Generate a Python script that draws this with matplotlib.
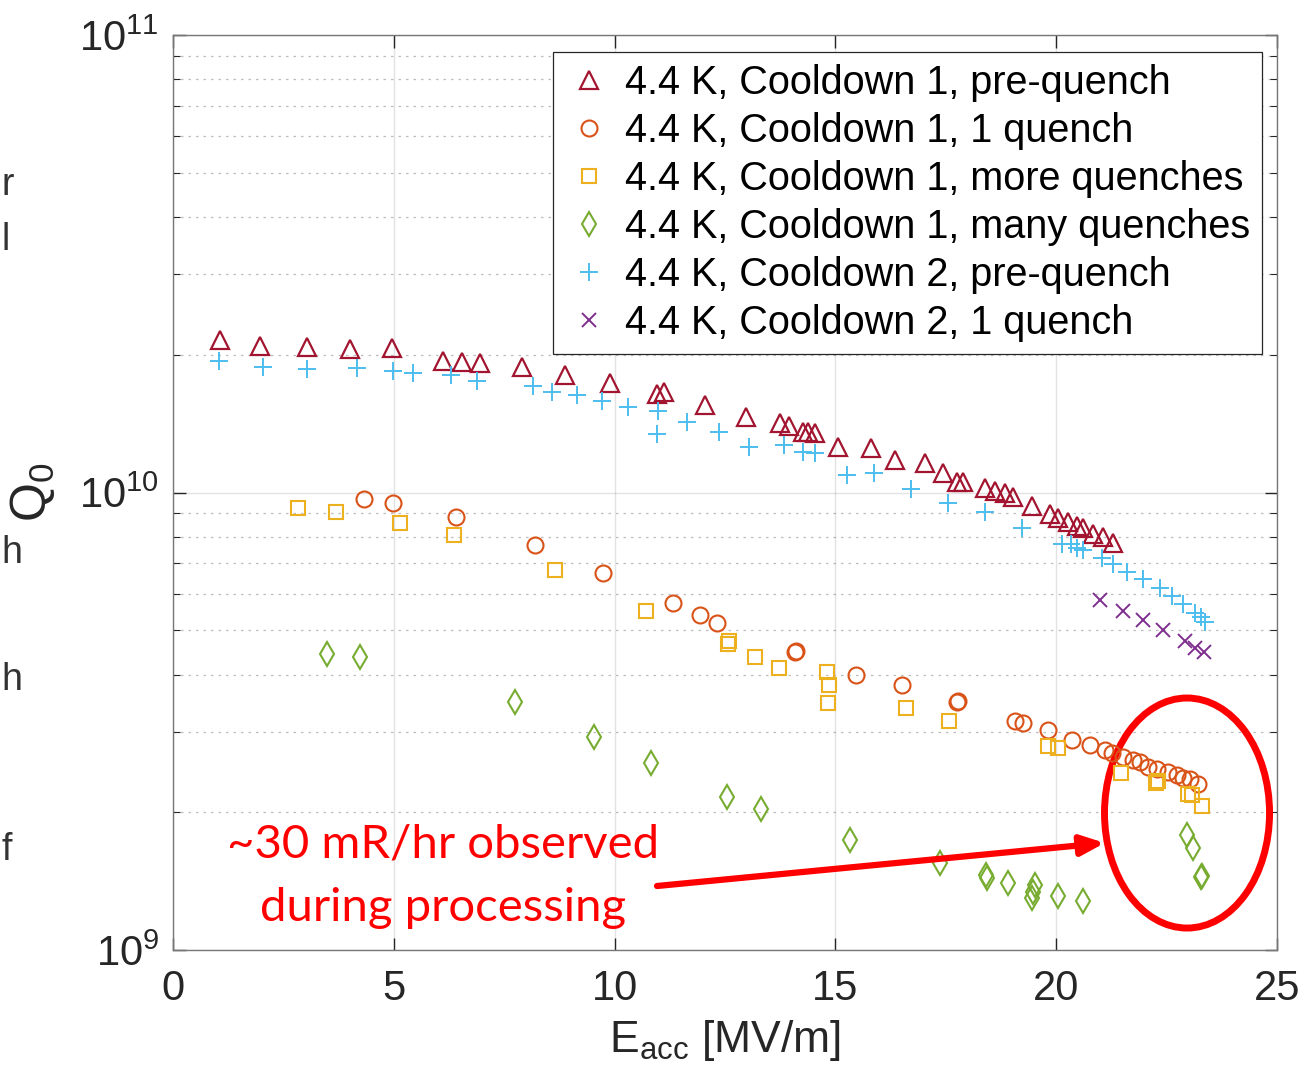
import matplotlib
matplotlib.use("Agg")
import matplotlib.pyplot as plt
from matplotlib.patches import Ellipse
import numpy as np

plt.rcParams['font.family'] = ['Liberation Sans', 'DejaVu Sans']
plt.rcParams['mathtext.fontset'] = 'custom'
plt.rcParams['mathtext.rm'] = 'Liberation Sans'
plt.rcParams['mathtext.it'] = 'Liberation Sans'
plt.rcParams['mathtext.default'] = 'regular'

# Cooldown 1, pre-quench (triangles)
e_c1_pre = [1.06, 1.97, 3.03, 4.01, 4.96, 6.11, 6.54, 6.95, 7.90, 8.88, 9.90, 10.96, 11.12,
            12.05, 12.98, 13.75, 13.95, 14.27, 14.38, 14.54, 15.06, 15.81, 16.35, 17.03,
            17.44, 17.75, 17.89, 18.39, 18.61, 18.84, 19.02, 19.45, 19.86, 20.04, 20.27,
            20.47, 20.61, 20.83, 21.06, 21.29]
q_c1_pre = [2.15, 2.09, 2.08, 2.06, 2.07, 1.94, 1.93, 1.92, 1.88, 1.81, 1.735, 1.64, 1.66,
            1.553, 1.462, 1.419, 1.398, 1.356, 1.356, 1.349, 1.257, 1.251, 1.178, 1.160,
            1.103, 1.054, 1.054, 1.023, 1.008, 0.997, 0.978, 0.934, 0.898, 0.880, 0.862,
            0.845, 0.836, 0.811, 0.799, 0.775]

# Cooldown 1, 1 quench (circles)
e_c1_q1 = [4.33, 4.98, 6.41, 8.20, 9.74, 11.32, 11.93, 12.32, 14.09, 14.11, 15.47, 16.51,
           17.75, 17.78, 19.07, 19.25, 19.81, 20.36, 20.77, 21.11, 21.26, 21.51, 21.74,
           21.90, 22.08, 22.28, 22.53, 22.74, 22.87, 23.03, 23.21]
q_c1_q1 = [0.968, 0.948, 0.884, 0.768, 0.667, 0.573, 0.540, 0.518, 0.448, 0.450, 0.399, 0.380,
           0.348, 0.350, 0.317, 0.313, 0.303, 0.288, 0.281, 0.274, 0.270, 0.264, 0.260,
           0.2575, 0.251, 0.2487, 0.245, 0.241, 0.2377, 0.2365, 0.2306]

# Cooldown 1, more quenches (squares)
e_c1_more = [2.83, 3.69, 5.14, 6.36, 8.65, 10.71, 12.57, 12.59, 13.18, 13.72, 14.81, 14.86,
             14.83, 16.60, 17.57, 19.81, 20.04, 21.47, 22.26, 22.30, 22.98, 23.08, 23.30]
q_c1_more = [0.925, 0.906, 0.858, 0.807, 0.677, 0.551, 0.467, 0.474, 0.437, 0.414, 0.405, 0.380,
             0.347, 0.338, 0.317, 0.279, 0.276, 0.2437, 0.2317, 0.234, 0.219, 0.218, 0.206]

# Cooldown 1, many quenches (diamonds)
e_c1_many = [3.49, 4.23, 7.74, 9.53, 10.82, 12.54, 13.32, 15.33, 17.37, 18.41, 18.43, 18.91,
             19.52, 19.47, 19.45, 20.04, 20.61, 22.96, 23.10, 23.28, 23.30]
q_c1_many = [0.444, 0.437, 0.348, 0.292, 0.256, 0.216, 0.203, 0.174, 0.155, 0.146, 0.144, 0.1398,
             0.1384, 0.1336, 0.1302, 0.1315, 0.128, 0.1784, 0.167, 0.1444, 0.145]

# Cooldown 2, pre-quench (plus)
e_c2_pre = [1.04, 2.04, 3.03, 4.17, 4.98, 5.43, 6.30, 6.88, 8.15, 8.58, 9.15, 9.71, 10.30,
            10.98, 10.96, 11.64, 12.36, 13.04, 13.84, 14.27, 14.54, 15.26, 15.87, 16.71,
            17.55, 18.39, 19.23, 20.13, 20.33, 20.47, 20.61, 21.04, 21.29, 21.60, 21.97,
            22.35, 22.62, 22.87, 23.14, 23.28, 23.37]
q_c2_pre = [1.94, 1.88, 1.862, 1.871, 1.844, 1.825, 1.807, 1.753, 1.709, 1.659, 1.634, 1.585,
            1.538, 1.507, 1.342, 1.426, 1.356, 1.257, 1.270, 1.226, 1.220, 1.092, 1.103, 1.018,
            0.948, 0.906, 0.836, 0.772, 0.772, 0.756, 0.748, 0.719, 0.698, 0.670, 0.647,
            0.618, 0.594, 0.570, 0.545, 0.534, 0.521]

# Cooldown 2, 1 quench (x)
e_c2_q1 = [20.99, 21.51, 21.97, 22.42, 22.92, 23.14, 23.35]
q_c2_q1 = [0.582, 0.551, 0.526, 0.501, 0.474, 0.457, 0.448]

labels = ['4.4 K, Cooldown 1, pre-quench', '4.4 K, Cooldown 1, 1 quench',
          '4.4 K, Cooldown 1, more quenches', '4.4 K, Cooldown 1, many quenches',
          '4.4 K, Cooldown 2, pre-quench', '4.4 K, Cooldown 2, 1 quench']

fig = plt.figure(figsize=(13.03, 10.8), dpi=100)
ax = fig.add_axes([173/1303, 1 - 950/1080, 1104/1303, 915/1080])

sc = 1e10
ax.plot(e_c1_pre, np.array(q_c1_pre)*sc, '^', ls='none', ms=13.5, mfc='none', mec='#A2142F', mew=1.6, label=labels[0])
ax.plot(e_c1_q1, np.array(q_c1_q1)*sc, 'o', ls='none', ms=11.5, mfc='none', mec='#D95319', mew=1.5, label=labels[1])
ax.plot(e_c1_more, np.array(q_c1_more)*sc, 's', ls='none', ms=9.5, mfc='none', mec='#EDB120', mew=1.5, label=labels[2])
ax.plot(e_c1_many, np.array(q_c1_many)*sc, 'd', ls='none', ms=12.5, mfc='none', mec='#77AC30', mew=1.5, label=labels[3])
ax.plot(e_c2_pre, np.array(q_c2_pre)*sc, '+', ls='none', ms=13, mec='#4DBEEE', mew=1.4, label=labels[4])
ax.plot(e_c2_q1, np.array(q_c2_q1)*sc, 'x', ls='none', ms=10.5, mec='#7E2F8E', mew=1.4, label=labels[5])

ax.set_yscale('log')
ax.set_xlim(0, 25)
ax.set_ylim(1e9, 1e11)
ax.set_xticks([0, 5, 10, 15, 20, 25])

ax.grid(True, which='major', color='#262626', alpha=0.13, lw=1.0, ls='-')
ax.grid(True, which='minor', axis='y', color='#262626', alpha=0.3, lw=0.9, ls=(0, (2, 4)))
ax.set_axisbelow(True)

ax.tick_params(which='both', direction='in', top=True, right=True, colors='#262626', labelsize=30)
ax.tick_params(axis='x', pad=14)
ax.tick_params(axis='y', pad=10)
ax.tick_params(which='major', length=9, width=1)
ax.tick_params(which='minor', length=5, width=0.8)
ax.tick_params(axis='x', which='minor', top=False, bottom=False)
for s in ax.spines.values():
    s.set_color('#777777')
    s.set_linewidth(1.0)

ax.set_xlabel(r'E$_{\mathregular{acc}}$ [MV/m]', fontsize=32, color='#262626', labelpad=6)
ax.set_ylabel(r'Q$_0$', fontsize=36, color='#262626', labelpad=16)

leg = ax.legend(loc='upper right', bbox_to_anchor=(0.986, 0.981), borderaxespad=0,
                fontsize=28.5, frameon=True, fancybox=False, framealpha=1, edgecolor='#262626',
                handlelength=1.2, handletextpad=0.3, labelspacing=0.25, borderpad=0.3)
leg.get_frame().set_linewidth(0.9)

# annotation
ax.annotate('', xy=(21.1, 0.1714e10), xytext=(10.96, 0.138e10),
            arrowprops=dict(arrowstyle='-|>,head_length=1.4,head_width=0.6', color='#FF0000', lw=4.5,
                            shrinkA=0, shrinkB=0))
ax.add_patch(Ellipse((0.9185, 0.1497), 0.1495, 0.2514, transform=ax.transAxes,
                     fill=False, ec='#FF0000', lw=5, clip_on=False))
fig.text(443/1303, 1 - 845/1080, '~30 mR/hr observed', fontsize=34, color='#FF0000',
         family='Lato', ha='center', va='center')
fig.text(443/1303, 1 - 908/1080, 'during processing', fontsize=34, color='#FF0000',
         family='Lato', ha='center', va='center')

# text fragments along the left edge
for ch, yy in [('r', 185), ('l', 240), ('h', 553), ('h', 680), ('f', 850)]:
    fig.text(1/1303, 1 - yy/1080, ch, fontsize=27, color='#333333', ha='left', va='center')

fig.savefig('out.png', dpi=100)
